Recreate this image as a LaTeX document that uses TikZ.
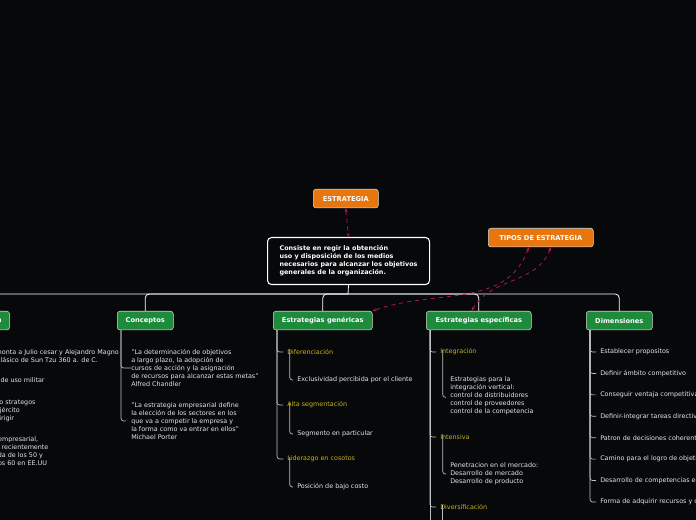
\documentclass[tikz,border=0pt]{standalone}
\usepackage{fontspec}
\setmainfont{DejaVu Sans}
\usetikzlibrary{arrows.meta}
\definecolor{bg}{HTML}{07080A}
\definecolor{org}{HTML}{E8760F}
\definecolor{grn}{HTML}{1E8A3C}
\definecolor{yel}{HTML}{C9B316}
\definecolor{lnk}{HTML}{B0174F}
\definecolor{txt}{HTML}{E6E6E6}
\begin{document}
\begin{tikzpicture}[x=0.75pt,y=-0.75pt,
 font=\fontsize{4.8}{6}\selectfont,
 top/.style={draw=white!85!black,fill=org,rounded corners=2pt,text=white,font=\fontsize{5}{6}\selectfont\bfseries,minimum height=14pt,inner xsep=6pt,anchor=north west},
 cat/.style={draw=white!85!black,fill=grn,rounded corners=2pt,text=white,font=\fontsize{5}{6}\selectfont\bfseries,minimum height=14pt,inner xsep=6pt,anchor=north west},
 item/.style={text=txt,anchor=west,align=left,inner sep=0pt},
 yitem/.style={text=yel,anchor=west,align=left,inner sep=0pt},
 br/.style={draw=white!75!black,line width=0.5pt,rounded corners=2pt},
 bus/.style={draw=white,line width=0.6pt,rounded corners=3pt},
 lk/.style={draw=lnk,dashed,line width=0.6pt,{Stealth[length=3pt]}-{Stealth[length=3pt]}}]
\fill[bg] (0,0) rectangle (696,520);
\clip (0,0) rectangle (696,520);
\useasboundingbox (0,0) rectangle (696,520);
% top nodes
\node[top,minimum width=65*0.75pt] (est) at (313,189) {ESTRATEGIA};
\node[top,minimum width=105*0.75pt] (tip) at (488,228) {TIPOS DE ESTRATEGIA};
\node[draw=white,line width=0.8pt,fill=bg,rounded corners=3pt,anchor=north west,minimum width=162*0.75pt,minimum height=47*0.75pt,text=white,align=left,font=\fontsize{4.8}{6}\selectfont\bfseries,inner xsep=8pt] (cen) at (267,237) {Consiste en regir la obtención\\uso y disposición de los medios\\necesarios para alcanzar los objetivos\\generales de la organización.};
% categories
\node[cat,minimum width=40*0.75pt] (orig) at (-32,311) {Origen};
\node[cat,minimum width=56*0.75pt] (con) at (117,311) {Conceptos};
\node[cat,minimum width=99*0.75pt] (gen) at (273,311) {Estrategias genéricas};
\node[cat,minimum width=105*0.75pt] (esp) at (426,311) {Estrategias específicas};
\node[cat,minimum width=66*0.75pt] (dim) at (586,311) {Dimensiones};
% bus
\coordinate (j) at (348,294);
\draw[bus] (cen.south) -- (j);
\draw[bus] (orig.north) |- (j);
\draw[bus] (con.north) |- (j);
\draw[bus] (gen.north) |- (j);
\draw[bus] (esp.north) |- (j);
\draw[bus] (dim.north) |- (j);
% links
\draw[lk] (est.south) -- (cen.north);
\draw[lk] (tip.south) ++(-12,0) coordinate (t1) (t1) to[out=250,in=20] (gen.north east);
\draw[lk] (tip.south) ++(10,0) coordinate (t2) (t2) to[out=250,in=60] ([xshift=-45]esp.north east);
% Origen
\node[item] (o1) at (-21,356) {Se remonta a Julio cesar y Alejandro Magno\\Libro clásico de Sun Tzu 360 a. de C.};
\node[item] (o2) at (-27,380) {Término de uso militar};
\node[item] (o3) at (-30,411) {Del griego strategos\\jefe del ejército\\arte de dirigir};
\node[item] (o4) at (-47,452) {En el entorno empresarial,\\se ha aplicado recientemente\\desde la década de los 50 y\\principios de los 60 en EE.UU};
% Conceptos
\coordinate (c0) at (121,330);
\node[item] (c1) at (131,368) {"La determinación de objetivos\\ a largo plazo, la adopción de\\cursos de acción y la asignación\\de recursos para alcanzar estas metas"\\Alfred Chandler};
\node[item] (c2) at (131,421) {"La estrategia empresarial define\\la elección de los sectores en los\\que va a competir la empresa y\\la forma como va entrar en ellos"\\Michael Porter};
\draw[br] (c0) |- (c1.west);
\draw[br] (c0) |- ([xshift=-4]c2.west);
% Genericas
\coordinate (g0) at (277,330);
\node[yitem] (g1) at (287,352) {Diferenciación};
\node[item] (g11) at (297,380) {Exclusividad percibida por el cliente};
\node[yitem] (g2) at (287,405) {Alta segmentación};
\node[item] (g21) at (297,434) {Segmento en particular};
\node[yitem] (g3) at (287,459) {Liderazgo en cosotos};
\node[item] (g31) at (297,487) {Posición de bajo costo};
\foreach \n in {g1,g2,g3}{\draw[br] (g0) |- ([xshift=-3]\n.west);}
\draw[br] ([xshift=2,yshift=4]g1.south west) |- ([xshift=-3]g11.west);
\draw[br] ([xshift=2,yshift=4]g2.south west) |- ([xshift=-3]g21.west);
\draw[br] ([xshift=2,yshift=4]g3.south west) |- ([xshift=-3]g31.west);
% Especificas
\coordinate (e0) at (430,330);
\coordinate (eend) at (430,520);
\draw[br] (e0) -- (eend);
\node[yitem] (e1) at (440,352) {Integración};
\node[item] (e11) at (450,396) {Estrategias para la\\integración vertical:\\control de distribuidores\\control de proveedores\\control de la competencia};
\node[yitem] (e2) at (440,437) {Intensiva};
\node[item] (e21) at (450,474) {Penetracion en el mercado:\\Desarrollo de mercado\\Desarrollo de producto};
\node[yitem] (e3) at (440,507) {Diversificación};
\foreach \n in {e1,e2,e3}{\draw[br] (e0) |- ([xshift=-3]\n.west);}
\draw[br] ([xshift=2,yshift=4]e1.south west) |- ([xshift=-3,yshift=-1]e11.west);
\draw[br] ([xshift=2,yshift=4]e2.south west) |- ([xshift=-3]e21.west);
\draw[br] ([xshift=2,yshift=4]e3.south west) -- ++(0,20);
% Dimensiones
\coordinate (d0) at (590,330);
\foreach \t [count=\i] in {Establecer propositos,Definir ámbito competitivo,Conseguir ventaja competitiva,Definir-integrar tareas directivas,Patron de decisiones coherentes,Camino para el logro de objetivos,Desarrollo de competencias esenciales,Forma de adquirir recursos y capacidades}{
 \node[item] (d\i) at (600,{352+(\i-1)*21.43}) {\t};
 \draw[br] (d0) |- ([xshift=-3]d\i.west);}
\end{tikzpicture}
\end{document}
